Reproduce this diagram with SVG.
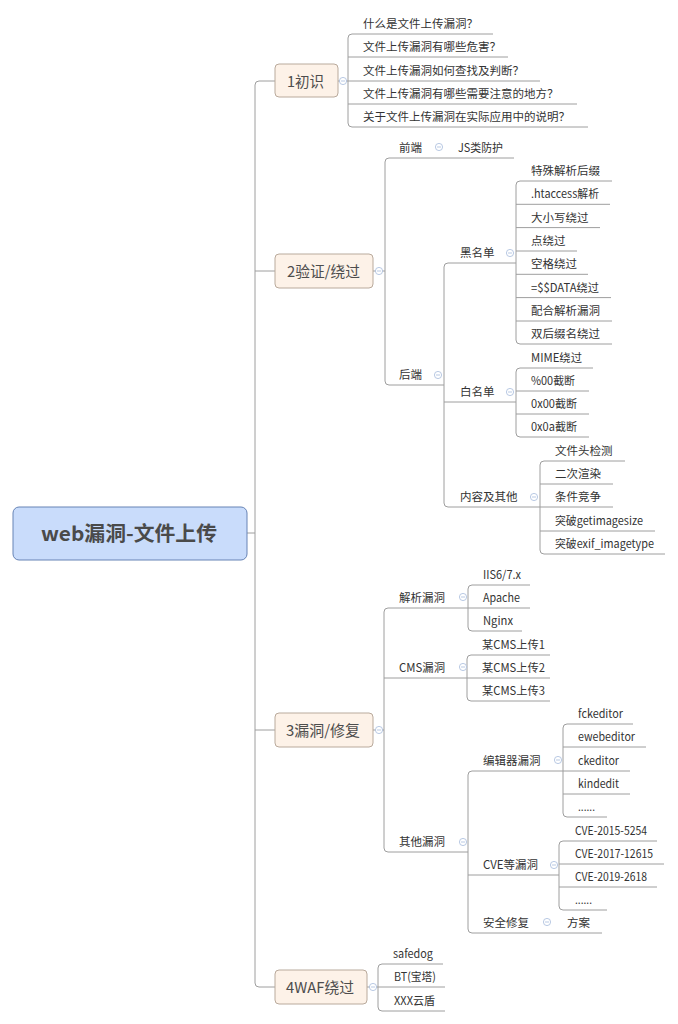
<svg xmlns="http://www.w3.org/2000/svg" width="678" height="1024" viewBox="0 0 678 1024">
<style>
text{font-family:"Noto Sans CJK SC","Noto Sans",sans-serif;fill:#333;font-size:11.5px}
.root rect{fill:#c9dcfb;stroke:#6683b5;stroke-width:1}
.root text{font-size:20px;font-weight:bold;fill:#4a4a4a}
.l1 rect{fill:#fdf2e8;stroke:#b9aa9c;stroke-width:1}
.l1 text{font-size:15px;fill:#4d4d4d}
.c path,.ul{stroke:#9e9e9e;stroke-width:1;fill:none}
.btn circle{fill:#fff;stroke:#a7bbdc;stroke-width:0.8}
.btn line{stroke:#a7bbdc;stroke-width:0.8}
</style>
<defs>
<g id="minus" class="btn"><circle cx="0" cy="0" r="3.6"/><line x1="-2" y1="0" x2="2" y2="0"/></g>
</defs>
<rect width="678" height="1024" fill="#fff"/>

<g id="connectors" class="c">
<path d="M247 533H255"/>
<path d="M275 81H259Q255 81 255 85V983Q255 987 259 987H275"/>
<path d="M255 271H275"/>
<path d="M255 730H275"/>
<path d="M338 81H348"/>
<path d="M352 34Q348 34 348 38V123Q348 127 352 127"/>
<path d="M373 271H385"/>
<path d="M389 158Q385 158 385 162V381Q385 385 389 385"/>
<path d="M448 263Q444 263 444 267V503Q444 507 448 507"/>
<path d="M520 181Q516 181 516 185V340Q516 344 520 344"/>
<path d="M520 368Q516 368 516 372V433Q516 437 520 437"/>
<path d="M544 461Q540 461 540 465V550Q540 554 544 554"/>
<path d="M373 730H384"/>
<path d="M388 608Q384 608 384 612V848Q384 852 388 852"/>
<path d="M472 585Q468 585 468 589V627Q468 631 472 631"/>
<path d="M471 655Q467 655 467 659V697Q467 701 471 701"/>
<path d="M472 771Q468 771 468 775V929Q468 933 472 933"/>
<path d="M567 724Q563 724 563 728V813Q563 817 567 817"/>
<path d="M563 841Q559 841 559 845V906Q559 910 563 910"/>
<path d="M367 987H378"/>
<path d="M382 964Q378 964 378 968V1007Q378 1011 382 1011"/>
</g>

<g id="root" class="root">
<rect x="13" y="507" width="234" height="53" rx="6"/>
<text x="41" y="541" textLength="176" lengthAdjust="spacingAndGlyphs">web漏洞-文件上传</text>
</g>

<g id="n1" class="l1">
<rect x="275" y="64" width="63" height="33" rx="4"/>
<text x="287" y="86.5" textLength="37" lengthAdjust="spacingAndGlyphs">1初识</text>
<use href="#minus" x="343" y="81"/>
</g>
<g id="n1-1"><line class="ul" x1="352" y1="34" x2="493" y2="34"/><text x="363" y="28">什么是文件上传漏洞？</text></g>
<g id="n1-2"><line class="ul" x1="348" y1="57" x2="508" y2="57"/><text x="363" y="51">文件上传漏洞有哪些危害？</text></g>
<g id="n1-3"><line class="ul" x1="348" y1="81" x2="540" y2="81"/><text x="363" y="75">文件上传漏洞如何查找及判断？</text></g>
<g id="n1-4"><line class="ul" x1="348" y1="104" x2="577" y2="104"/><text x="363" y="98">文件上传漏洞有哪些需要注意的地方？</text></g>
<g id="n1-5"><line class="ul" x1="352" y1="127" x2="588" y2="127"/><text x="363" y="121">关于文件上传漏洞在实际应用中的说明？</text></g>

<g id="n2" class="l1">
<rect x="275" y="254" width="98" height="34" rx="4"/>
<text x="287" y="276.5" textLength="73" lengthAdjust="spacingAndGlyphs">2验证/绕过</text>
<use href="#minus" x="379" y="271"/>
</g>
<g id="n2-1"><line class="ul" x1="389" y1="158" x2="444" y2="158"/><text x="399" y="152">前端</text><use href="#minus" x="439" y="147"/></g>
<g id="n2-1-1"><line class="ul" x1="444" y1="158" x2="514" y2="158"/><text x="458" y="152" textLength="45" lengthAdjust="spacingAndGlyphs">JS类防护</text></g>
<g id="n2-2"><line class="ul" x1="389" y1="385" x2="444" y2="385"/><text x="399" y="379">后端</text><use href="#minus" x="438" y="375"/></g>
<g id="n2-2-1"><line class="ul" x1="448" y1="263" x2="516" y2="263"/><text x="460" y="257">黑名单</text><use href="#minus" x="510" y="253"/></g>
<g id="b1"><line class="ul" x1="520" y1="181" x2="612" y2="181"/><text x="531" y="175">特殊解析后缀</text></g>
<g id="b2"><line class="ul" x1="516" y1="204.3" x2="610" y2="204.3"/><text x="531" y="198.3" textLength="68" lengthAdjust="spacingAndGlyphs">.htaccess解析</text></g>
<g id="b3"><line class="ul" x1="516" y1="227.6" x2="600" y2="227.6"/><text x="531" y="221.6">大小写绕过</text></g>
<g id="b4"><line class="ul" x1="516" y1="251" x2="577" y2="251"/><text x="531" y="245">点绕过</text></g>
<g id="b5"><line class="ul" x1="516" y1="274.3" x2="588" y2="274.3"/><text x="531" y="268.3">空格绕过</text></g>
<g id="b6"><line class="ul" x1="516" y1="297.6" x2="611" y2="297.6"/><text x="531" y="291.6" textLength="68" lengthAdjust="spacingAndGlyphs">=$$DATA绕过</text></g>
<g id="b7"><line class="ul" x1="516" y1="321" x2="612" y2="321"/><text x="531" y="315">配合解析漏洞</text></g>
<g id="b8"><line class="ul" x1="520" y1="344" x2="612" y2="344"/><text x="531" y="338">双后缀名绕过</text></g>
<g id="n2-2-2"><line class="ul" x1="444" y1="402" x2="516" y2="402"/><text x="460" y="396">白名单</text><use href="#minus" x="510" y="392"/></g>
<g id="w1"><line class="ul" x1="520" y1="368" x2="593" y2="368"/><text x="531" y="362" textLength="51" lengthAdjust="spacingAndGlyphs">MIME绕过</text></g>
<g id="w2"><line class="ul" x1="516" y1="391" x2="589" y2="391"/><text x="531" y="385" textLength="44" lengthAdjust="spacingAndGlyphs">%00截断</text></g>
<g id="w3"><line class="ul" x1="516" y1="414" x2="589" y2="414"/><text x="531" y="408" textLength="46" lengthAdjust="spacingAndGlyphs">0x00截断</text></g>
<g id="w4"><line class="ul" x1="520" y1="437" x2="589" y2="437"/><text x="531" y="431" textLength="46" lengthAdjust="spacingAndGlyphs">0x0a截断</text></g>
<g id="n2-2-3"><line class="ul" x1="448" y1="507" x2="540" y2="507"/><text x="460" y="501">内容及其他</text><use href="#minus" x="534" y="497"/></g>
<g id="o1"><line class="ul" x1="544" y1="461" x2="625" y2="461"/><text x="555" y="455">文件头检测</text></g>
<g id="o2"><line class="ul" x1="540" y1="484" x2="613" y2="484"/><text x="555" y="478">二次渲染</text></g>
<g id="o3"><line class="ul" x1="540" y1="507" x2="613" y2="507"/><text x="555" y="501">条件竞争</text></g>
<g id="o4"><line class="ul" x1="540" y1="531" x2="655" y2="531"/><text x="555" y="525" textLength="88" lengthAdjust="spacingAndGlyphs">突破getimagesize</text></g>
<g id="o5"><line class="ul" x1="544" y1="554" x2="665" y2="554"/><text x="555" y="548" textLength="99" lengthAdjust="spacingAndGlyphs">突破exif_imagetype</text></g>

<g id="n3" class="l1">
<rect x="275" y="713" width="98" height="34" rx="4"/>
<text x="286" y="735.5" textLength="74" lengthAdjust="spacingAndGlyphs">3漏洞/修复</text>
<use href="#minus" x="379" y="730"/>
</g>
<g id="n3-1"><line class="ul" x1="388" y1="608" x2="468" y2="608"/><text x="399" y="602">解析漏洞</text><use href="#minus" x="463" y="597"/></g>
<g id="p1"><line class="ul" x1="472" y1="585" x2="530" y2="585"/><text x="483" y="579" textLength="38" lengthAdjust="spacingAndGlyphs">IIS6/7.x</text></g>
<g id="p2"><line class="ul" x1="468" y1="608" x2="530" y2="608"/><text x="483" y="602" textLength="37" lengthAdjust="spacingAndGlyphs">Apache</text></g>
<g id="p3"><line class="ul" x1="472" y1="631" x2="522" y2="631"/><text x="483" y="625" textLength="30" lengthAdjust="spacingAndGlyphs">Nginx</text></g>
<g id="n3-2"><line class="ul" x1="384" y1="678" x2="467" y2="678"/><text x="399" y="672" textLength="46" lengthAdjust="spacingAndGlyphs">CMS漏洞</text><use href="#minus" x="463" y="667"/></g>
<g id="m1"><line class="ul" x1="471" y1="655" x2="550" y2="655"/><text x="482" y="649" textLength="63" lengthAdjust="spacingAndGlyphs">某CMS上传1</text></g>
<g id="m2"><line class="ul" x1="467" y1="678" x2="550" y2="678"/><text x="482" y="672" textLength="63" lengthAdjust="spacingAndGlyphs">某CMS上传2</text></g>
<g id="m3"><line class="ul" x1="471" y1="701" x2="550" y2="701"/><text x="482" y="695" textLength="63" lengthAdjust="spacingAndGlyphs">某CMS上传3</text></g>
<g id="n3-3"><line class="ul" x1="388" y1="852" x2="468" y2="852"/><text x="399" y="846">其他漏洞</text><use href="#minus" x="463" y="842"/></g>
<g id="n3-3-1"><line class="ul" x1="472" y1="771" x2="563" y2="771"/><text x="483" y="765">编辑器漏洞</text><use href="#minus" x="558" y="760"/></g>
<g id="e1"><line class="ul" x1="567" y1="724" x2="633" y2="724"/><text x="578" y="718" textLength="45" lengthAdjust="spacingAndGlyphs">fckeditor</text></g>
<g id="e2"><line class="ul" x1="563" y1="747" x2="646" y2="747"/><text x="578" y="741" textLength="57" lengthAdjust="spacingAndGlyphs">ewebeditor</text></g>
<g id="e3"><line class="ul" x1="563" y1="771" x2="630" y2="771"/><text x="578" y="765" textLength="41" lengthAdjust="spacingAndGlyphs">ckeditor</text></g>
<g id="e4"><line class="ul" x1="563" y1="794" x2="630" y2="794"/><text x="578" y="788" textLength="41" lengthAdjust="spacingAndGlyphs">kindedit</text></g>
<g id="e5"><line class="ul" x1="567" y1="817" x2="607" y2="817"/><text x="578" y="811" textLength="17" lengthAdjust="spacingAndGlyphs">......</text></g>
<g id="n3-3-2"><line class="ul" x1="468" y1="875" x2="559" y2="875"/><text x="483" y="869" textLength="55" lengthAdjust="spacingAndGlyphs">CVE等漏洞</text><use href="#minus" x="554" y="865"/></g>
<g id="v1"><line class="ul" x1="563" y1="841" x2="657" y2="841"/><text x="575" y="835" textLength="72" lengthAdjust="spacingAndGlyphs">CVE-2015-5254</text></g>
<g id="v2"><line class="ul" x1="559" y1="864" x2="664" y2="864"/><text x="575" y="858" textLength="78" lengthAdjust="spacingAndGlyphs">CVE-2017-12615</text></g>
<g id="v3"><line class="ul" x1="559" y1="887" x2="657" y2="887"/><text x="575" y="881" textLength="72" lengthAdjust="spacingAndGlyphs">CVE-2019-2618</text></g>
<g id="v4"><line class="ul" x1="563" y1="910" x2="607" y2="910"/><text x="575" y="904" textLength="17" lengthAdjust="spacingAndGlyphs">......</text></g>
<g id="n3-3-3"><line class="ul" x1="472" y1="933" x2="552" y2="933"/><text x="483" y="927">安全修复</text><use href="#minus" x="547" y="922"/></g>
<g id="n3-3-3-1"><line class="ul" x1="552" y1="933" x2="602" y2="933"/><text x="567" y="927">方案</text></g>

<g id="n4" class="l1">
<rect x="275" y="970" width="92" height="34" rx="4"/>
<text x="286" y="992.5" textLength="68" lengthAdjust="spacingAndGlyphs">4WAF绕过</text>
<use href="#minus" x="373" y="987"/>
</g>
<g id="f1"><line class="ul" x1="382" y1="964" x2="443" y2="964"/><text x="393" y="958" textLength="40" lengthAdjust="spacingAndGlyphs">safedog</text></g>
<g id="f2"><line class="ul" x1="378" y1="987" x2="445" y2="987"/><text x="394" y="981" textLength="42" lengthAdjust="spacingAndGlyphs">BT(宝塔)</text></g>
<g id="f3"><line class="ul" x1="382" y1="1011" x2="445" y2="1011"/><text x="394" y="1005" textLength="41" lengthAdjust="spacingAndGlyphs">XXX云盾</text></g>
</svg>
